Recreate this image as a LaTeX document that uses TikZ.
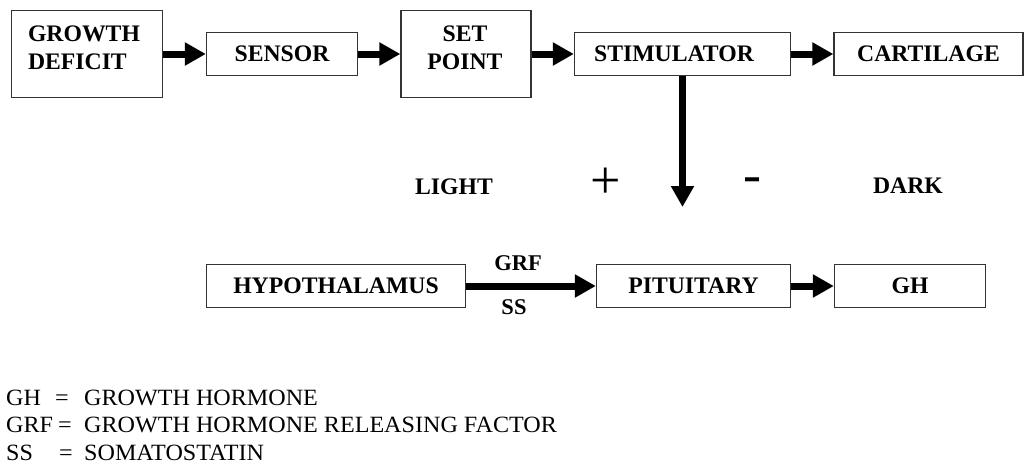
\documentclass[tikz,border=0pt]{standalone}
\usepackage{fontspec}
\setmainfont{Liberation Serif}
\newfontfamily\legfont[FakeStretch=1.035]{Liberation Serif}
\usetikzlibrary{arrows.meta}
\begin{document}
\begin{tikzpicture}[x=1pt,y=-1pt,
  box/.style={draw=black!80, line width=1.3pt, inner sep=0pt, font=\bfseries\fontsize{23.7}{28}\selectfont},
  lbl/.style={inner sep=0pt, font=\bfseries\fontsize{23.7}{28}\selectfont},
  leg/.style={inner sep=0pt, anchor=base west, font=\legfont\fontsize{23.3}{28}\selectfont},
  sign/.style={inner sep=0pt, font=\fontsize{54}{60}\selectfont},
  flow/.style={line width=7pt, -{Triangle[length=21pt,width=22pt]}}]
\useasboundingbox (0,0) rectangle (1025,463);
% top row
\node[box, minimum width=151pt, minimum height=87pt] (gd) at (87,54) {};
\node[lbl, align=left] (gdt) at (84,48) {GROWTH\\DEFICIT};
\node[box, minimum width=151pt, minimum height=43pt] (sensor) at (282,54) {SENSOR};
\node[box, minimum width=130pt, minimum height=87pt] (setpt) at (466,54) {};
\node[lbl, align=center] (setptt) at (465,48) {SET\\POINT};
\node[box, minimum width=216pt, minimum height=43pt] (stim) at (682.5,54) {STIMULATOR\hspace*{17pt}};
\node[box, minimum width=189pt, minimum height=43pt] (cart) at (928.5,54) {CARTILAGE};
\draw[flow] (gd) -- (sensor);
\draw[flow] (sensor) -- (setpt);
\draw[flow] (setpt) -- (stim);
\draw[flow] (stim) -- (cart);
% vertical arrow and signs
\coordinate (vend) at (682.5,207);
\draw[flow] (stim.south) -- (vend);
\node[lbl] (light) at (454,186.5) {LIGHT};
\node[lbl] (dark) at (908,186) {DARK};
\node[sign] (plus) at (606,183) {+};
\node[sign] (minus) at (752,185) {-};
% bottom row
\node[box, minimum width=259pt, minimum height=43pt] (hypo) at (336,286) {HYPOTHALAMUS};
\node[box, minimum width=194pt, minimum height=43pt] (pit) at (693.5,286) {PITUITARY};
\node[box, minimum width=151pt, minimum height=43pt] (gh) at (910,286) {GH};
\draw[flow] (hypo) -- (pit);
\draw[flow] (pit) -- (gh);
\node[lbl, font=\bfseries\fontsize{22.5}{26}\selectfont] (grf) at (518,263) {GRF};
\node[lbl, font=\bfseries\fontsize{22.5}{26}\selectfont] (ss) at (514,307) {SS};
% legend
\node[leg] (l1a) at (6,405) {GH};
\node[leg] (l1b) at (55,405) {=};
\node[leg] (l1c) at (84,405) {GROWTH HORMONE};
\node[leg] (l2a) at (6,432) {GRF};
\node[leg] (l2b) at (58,432) {=};
\node[leg] (l2c) at (84,432) {GROWTH HORMONE RELEASING FACTOR};
\node[leg] (l3a) at (6,460) {SS};
\node[leg] (l3b) at (59,460) {=};
\node[leg] (l3c) at (84,460) {SOMATOSTATIN};
\end{tikzpicture}
\end{document}
